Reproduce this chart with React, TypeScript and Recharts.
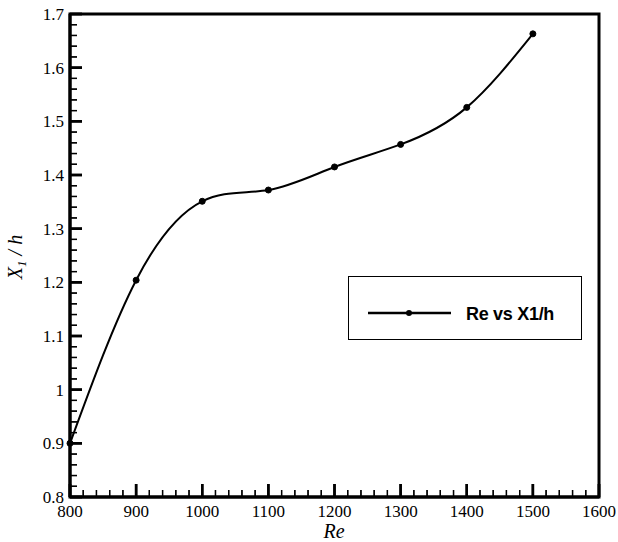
import React from 'react';
import { LineChart, Line, XAxis, YAxis, ReferenceLine } from 'recharts';

const reValues = [800, 900, 1000, 1100, 1200, 1300, 1400, 1500];
const x1hValues = [0.9, 1.204, 1.351, 1.372, 1.415, 1.457, 1.526, 1.663];
const xMajorTicks = [800, 900, 1000, 1100, 1200, 1300, 1400, 1500, 1600];
const yMajorTicks = [0.8, 0.9, 1.0, 1.1, 1.2, 1.3, 1.4, 1.5, 1.6, 1.7];
const seriesName = 'Re vs X1/h';
const xTitle = 'Re';

const data = reValues.map((re, i) => ({ re, x1h: x1hValues[i] }));

function withMinor(majors: number[], parts: number, decimals: number): number[] {
  const out: number[] = [];
  const f = Math.pow(10, decimals);
  for (let i = 0; i < majors.length - 1; i++) {
    const a = majors[i];
    const b = majors[i + 1];
    for (let k = 0; k < parts; k++) {
      out.push(Math.round((a + ((b - a) * k) / parts) * f) / f);
    }
  }
  out.push(majors[majors.length - 1]);
  return out;
}

const xTicks = withMinor(xMajorTicks, 5, 0);
const yTicks = withMinor(yMajorTicks, 5, 2);

const isMajor = (v: number, majors: number[]) => majors.some((m) => Math.abs(m - v) < 1e-6);

const SERIF = '"Liberation Serif", "Times New Roman", serif';
const SANS = '"Liberation Sans", Arial, sans-serif';

const X_MIN = 800;
const X_MAX = 1600;
const Y_MIN = 0.8;
const Y_MAX = 1.7;
const PLOT_W = 529;
const PLOT_H = 483;
// tick lengths converted from pixels to data units of the perpendicular axis
const yPerPx = (Y_MAX - Y_MIN) / PLOT_H;
const xPerPx = (X_MAX - X_MIN) / PLOT_W;

const TICK_SIZE = -12;
const TICK_MARGIN = 2;

const renderXTick = (props: any) => {
  const { x, y, payload } = props;
  const base = y - TICK_MARGIN - TICK_SIZE;
  const v = payload.value;
  const major = isMajor(v, xMajorTicks);
  return (
    <g>
      <path d={`M${x},${base}L${x},${base - (major ? 13 : 7)}`} stroke="#000" strokeWidth={major ? 2.5 : 1.3} />
      {major && (
        <text x={x} y={base + 20} textAnchor="middle" fontFamily={SERIF} fontSize={17} fill="#000">
          {String(v)}
        </text>
      )}
    </g>
  );
};

const renderYTick = (props: any) => {
  const { x, y, payload } = props;
  const base = x + TICK_MARGIN + TICK_SIZE;
  const v = payload.value;
  const major = isMajor(v, yMajorTicks);
  return (
    <g>
      <path d={`M${base},${y}L${base + (major ? 12 : 7)},${y}`} stroke="#000" strokeWidth={major ? 2.5 : 1.3} />
      {major && (
        <text x={base - 6} y={y + 6} textAnchor="end" fontFamily={SERIF} fontSize={17} fill="#000">
          {String(Math.round(v * 10) / 10)}
        </text>
      )}
    </g>
  );
};

export default function App() {
  const xTickLines = xTicks.map((v) => {
    const major = isMajor(v, xMajorTicks);
    const len = (major ? 13 : 7) * yPerPx;
    return (
      <ReferenceLine
        key={`xr-${v}`}
        segment={[
          { x: v, y: Y_MIN },
          { x: v, y: Y_MIN + len },
        ]}
        stroke="#000"
        strokeWidth={major ? 2.5 : 1.3}
        ifOverflow="visible"
      />
    );
  });
  const yTickLines = yTicks.map((v) => {
    const major = isMajor(v, yMajorTicks);
    const len = (major ? 12 : 7) * xPerPx;
    return (
      <ReferenceLine
        key={`yr-${v}`}
        segment={[
          { x: X_MIN, y: v },
          { x: X_MIN + len, y: v },
        ]}
        stroke="#000"
        strokeWidth={major ? 2.5 : 1.3}
        ifOverflow="visible"
      />
    );
  });

  return (
    <div style={{ position: 'absolute', left: 0, top: 0, width: 618, height: 542, background: '#fff' }}>
      <LineChart width={618} height={542} data={data} margin={{ top: 14, right: 19, left: 30, bottom: 15 }}>
        <XAxis
          dataKey="re"
          type="number"
          domain={[X_MIN, X_MAX]}
          ticks={xTicks}
          interval={0}
          height={30}
          tickSize={TICK_SIZE}
          tickMargin={TICK_MARGIN}
          tickLine={false}
          axisLine={{ stroke: '#000', strokeWidth: 3 }}
          tick={renderXTick}
        />
        <YAxis
          type="number"
          domain={[Y_MIN, Y_MAX]}
          ticks={yTicks}
          interval={0}
          width={40}
          tickSize={TICK_SIZE}
          tickMargin={TICK_MARGIN}
          tickLine={false}
          axisLine={{ stroke: '#000', strokeWidth: 3 }}
          tick={renderYTick}
        />
        {xTickLines}
        {yTickLines}
        <Line
          dataKey="x1h"
          name={seriesName}
          type="natural"
          stroke="#000"
          strokeWidth={2}
          dot={{ r: 3, fill: '#000', stroke: '#000', strokeWidth: 1 }}
          activeDot={false}
          isAnimationActive={false}
        />
      </LineChart>
      <svg
        width={618}
        height={542}
        style={{ position: 'absolute', left: 0, top: 0, pointerEvents: 'none' }}
      >
        <rect x={70} y={14} width={529} height={483} fill="none" stroke="#000" strokeWidth={3} />
        <text
          x={22}
          y={257}
          transform="rotate(-90, 22, 257)"
          textAnchor="middle"
          fontFamily={SERIF}
          fontStyle="italic"
          fontSize={20}
          fill="#000"
        >
          <tspan>X</tspan>
          <tspan fontSize={13} dy={4}>1</tspan>
          <tspan dy={-4}> / h</tspan>
        </text>
        <text x={334} y={538} textAnchor="middle" fontFamily={SERIF} fontStyle="italic" fontSize={20} fill="#000">
          {xTitle}
        </text>
        <g transform="translate(348, 276)">
          <rect x={0.5} y={0.5} width={233} height={63} fill="#fff" stroke="#000" strokeWidth={1} />
          <line x1={20} x2={103} y1={37} y2={37} stroke="#000" strokeWidth={2.5} />
          <circle cx={61} cy={37} r={3} fill="#000" />
          <text x={118} y={44} fontFamily={SANS} fontWeight="bold" fontSize={18} letterSpacing={-0.3} fill="#000">
            {seriesName}
          </text>
        </g>
      </svg>
    </div>
  );
}
